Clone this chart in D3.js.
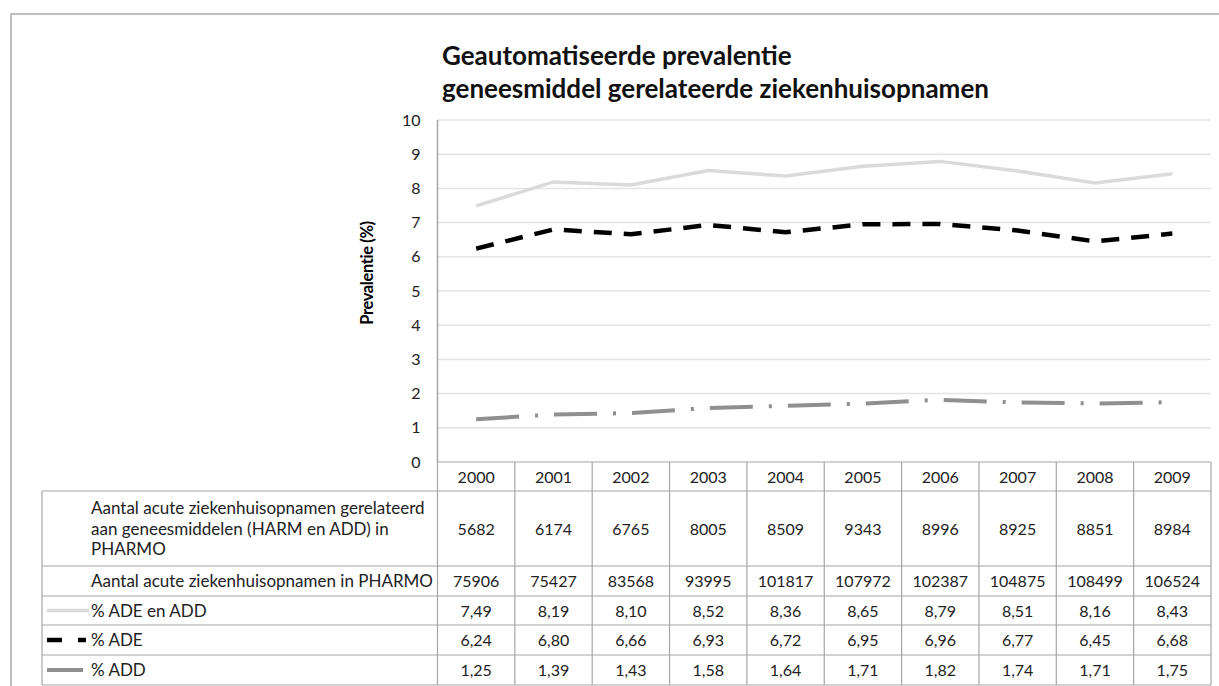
<!DOCTYPE html>
<html>
<style>
    body { margin: 0; background: #fff; }
    text { font-family: Lato, "Open Sans", sans-serif; }
</style>
<body>
<script src="https://d3js.org/d3.v7.min.js"></script>
<script>
// data
const years = ["2000","2001","2002","2003","2004","2005","2006","2007","2008","2009"]
const admDrug = [5682, 6174, 6765, 8005, 8509, 9343, 8996, 8925, 8851, 8984]
const admTotal = [75906, 75427, 83568, 93995, 101817, 107972, 102387, 104875, 108499, 106524]
const pctAll = [7.49, 8.19, 8.10, 8.52, 8.36, 8.65, 8.79, 8.51, 8.16, 8.43]
const pctADE = [6.24, 6.80, 6.66, 6.93, 6.72, 6.95, 6.96, 6.77, 6.45, 6.68]
const pctADD = [1.25, 1.39, 1.43, 1.58, 1.64, 1.71, 1.82, 1.74, 1.71, 1.75]
const titleLines = ["Geautomatiseerde prevalentie", "geneesmiddel gerelateerde ziekenhuisopnamen"]
const yLabel = "Prevalentie  (%)"

const W = 1219, H = 686
const plotL = 437.5, plotR = 1211, plotT = 120, plotB = 462
const tableLeft = 42

const svg = d3.select("body").append("svg")
    .attr("width", W).attr("height", H)

// outer chart frame (runs off the right and bottom)
svg.append("rect")
    .attr("x", 11).attr("y", 14)
    .attr("width", W + 20).attr("height", H + 20)
    .attr("fill", "none").attr("stroke", "#a9a9a9").attr("stroke-width", 1.5)

const x = d3.scaleBand().domain(years).range([plotL, plotR])
const y = d3.scaleLinear().domain([0, 10]).range([plotB, plotT])

// gridlines
svg.append("g").selectAll("line")
    .data(y.ticks(10).filter(d => d > 0))
    .join("line")
    .attr("x1", plotL).attr("x2", plotR)
    .attr("y1", d => y(d)).attr("y2", d => y(d))
    .attr("stroke", "#e4e4e4").attr("stroke-width", 1.5)

// y axis
const yAxis = svg.append("g")
    .attr("transform", `translate(${plotL},0)`)
    .call(d3.axisLeft(y).ticks(10).tickSize(0).tickPadding(17))
yAxis.select(".domain").remove()
yAxis.selectAll("text")
    .attr("font-size", 16).attr("fill", "#222")
    .style("font-family", "Lato, sans-serif")

svg.append("line")
    .attr("x1", plotL).attr("x2", plotL).attr("y1", plotT).attr("y2", plotB)
    .attr("stroke", "#a6a6a6").attr("stroke-width", 1.5)

svg.append("text")
    .attr("transform", "translate(373,273) rotate(-90)")
    .attr("text-anchor", "middle")
    .attr("font-size", 16.5).attr("font-weight", "bold")
    .attr("letter-spacing", -0.4)
    .text(yLabel)

// title
svg.append("g").selectAll("text")
    .data(titleLines)
    .join("text")
    .attr("x", 442).attr("y", (d, i) => 65 + i * 33)
    .attr("font-size", 26).attr("font-weight", "bold").attr("fill", "#111")
    .text(d => d)

// series
const series = [
    {values: pctAll, color: "#dadada", width: 3.5, dash: null, label: "% ADE en ADD"},
    {values: pctADE, color: "#000", width: 4.5, dash: "18,12", label: "% ADE"},
    {values: pctADD, color: "#8f8f8f", width: 4, dash: "43,16,3,16", label: "% ADD"}
]
const line = d3.line()
    .x((d, i) => x(years[i]) + x.bandwidth() / 2)
    .y(d => y(d))

svg.append("g").selectAll("path")
    .data(series)
    .join("path")
    .attr("d", d => line(d.values))
    .attr("fill", "none")
    .attr("stroke", d => d.color)
    .attr("stroke-width", d => d.width)
    .attr("stroke-dasharray", d => d.dash)

// data table
const fmt = v => v.toFixed(2).replace(".", ",")
const rows = [
    {label: ["Aantal acute ziekenhuisopnamen gerelateerd", "aan geneesmiddelen (HARM en ADD) in", "PHARMO"], values: admDrug, h: 75},
    {label: ["Aantal acute ziekenhuisopnamen in PHARMO"], values: admTotal, h: 30},
    {label: [series[0].label], values: pctAll.map(fmt), h: 29, s: series[0]},
    {label: [series[1].label], values: pctADE.map(fmt), h: 30, s: series[1]},
    {label: [series[2].label], values: pctADD.map(fmt), h: 30, s: series[2]}
]
const headerH = 29
let yy = plotB + headerH
rows.forEach(r => { r.y0 = yy; yy += r.h })
const tableBottom = yy

const grid = svg.append("g").attr("stroke", "#a6a6a6").attr("stroke-width", 1.2)
grid.append("line").attr("x1", plotL).attr("x2", plotR).attr("y1", plotB).attr("y2", plotB)
grid.selectAll(".hl").data(rows).join("line")
    .attr("x1", tableLeft).attr("x2", plotR)
    .attr("y1", d => d.y0).attr("y2", d => d.y0)
grid.append("line").attr("x1", tableLeft).attr("x2", plotR).attr("y1", tableBottom).attr("y2", tableBottom)
grid.append("line").attr("x1", tableLeft).attr("x2", tableLeft).attr("y1", plotB + headerH).attr("y2", tableBottom)
grid.selectAll(".vl").data(years.concat(["end"])).join("line")
    .attr("x1", (d, i) => i < years.length ? x(d) : plotR)
    .attr("x2", (d, i) => i < years.length ? x(d) : plotR)
    .attr("y1", plotB).attr("y2", tableBottom)

// header years
svg.append("g").selectAll("text")
    .data(years)
    .join("text")
    .attr("x", d => x(d) + x.bandwidth() / 2)
    .attr("y", plotB + headerH / 2 + 6)
    .attr("text-anchor", "middle").attr("font-size", 16).attr("fill", "#222")
    .text(d => d)

// row labels and values
const rowG = svg.append("g").selectAll("g")
    .data(rows)
    .join("g")

rowG.selectAll(".lab")
    .data(d => d.label.map((t, i) => ({t, i, r: d})))
    .join("text")
    .attr("x", 91)
    .attr("y", d => d.r.y0 + d.r.h / 2 + 6 + (d.i - (d.r.label.length - 1) / 2) * 20.5)
    .attr("font-size", 17).attr("fill", "#222")
    .text(d => d.t)

rowG.selectAll(".val")
    .data(d => d.values.map((v, i) => ({v, i, r: d})))
    .join("text")
    .attr("x", d => x(years[d.i]) + x.bandwidth() / 2)
    .attr("y", d => d.r.y0 + d.r.h / 2 + 6)
    .attr("text-anchor", "middle").attr("font-size", 16).attr("fill", "#222")
    .text(d => d.v)

// legend keys inside the label cells
const keyDash = {"% ADE": "15,16,8,40"}
rowG.filter(d => d.s)
    .append("line")
    .attr("x1", 47).attr("x2", d => d.s.label === "% ADD" ? 83 : 89)
    .attr("y1", d => d.y0 + d.h / 2).attr("y2", d => d.y0 + d.h / 2)
    .attr("stroke", d => d.s.color)
    .attr("stroke-width", d => d.s.width)
    .attr("stroke-dasharray", d => keyDash[d.s.label] || null)
</script>
</body>
</html>
